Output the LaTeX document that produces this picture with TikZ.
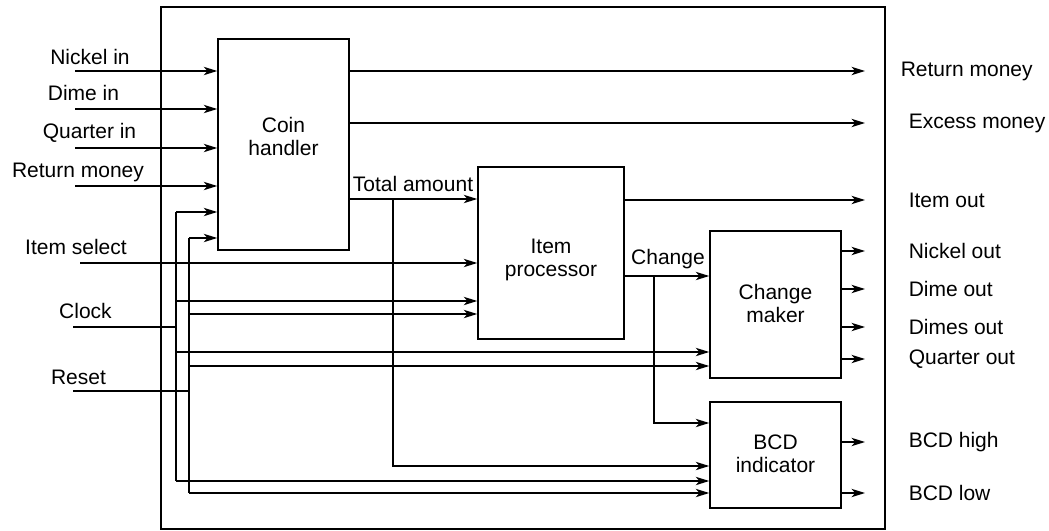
\documentclass[tikz,border=0pt]{standalone}
\usepackage{fontspec}
\setmainfont{Liberation Sans}
\usetikzlibrary{arrows.meta}
\begin{document}
\begin{tikzpicture}[x=0.5pt,y=-0.5pt,line width=0.75pt,
  sig/.style={-{Stealth[length=6.8pt,width=4.2pt,inset=2pt]}},
  blk/.style 2 args={draw,rectangle,inner sep=0pt,minimum width=#1*0.5pt,minimum height=#2*0.5pt},
  txt/.style={inner sep=0pt,font=\fontsize{10.5}{11.5}\selectfont}]
\useasboundingbox (0,0) rectangle (1049,530);
% frame and the four blocks
\node[blk={724}{522}] (frame) at (523,268) {};
\node[blk={131}{211}] (coin) at (283.5,144.5) {};
\node[blk={146}{172}] (proc) at (551,253) {};
\node[blk={131}{147}] (chgm) at (775.5,304.5) {};
\node[blk={131}{106}] (bcd) at (775.5,455) {};
\node[txt,align=center] (coint) at (283.5,136) {Coin\\handler};
\node[txt,align=center] (proct) at (551,260) {Item\\processor};
\node[txt,align=center] (chgmt) at (775.5,303) {Change\\maker};
\node[txt,align=center] (bcdt) at (775.5,454) {BCD\\indicator};
% coin inputs
\coordinate (nickel) at (75,71);\coordinate (dime) at (75,109);\coordinate (quarter) at (75,148);\coordinate (retin) at (75,186);
\foreach \c in {nickel,dime,quarter,retin} \draw[sig] (\c) -- (\c -| coin.west);
\node[txt] (nickelt) at (90,57) {Nickel in};
\node[txt] (dimet) at (83.5,93) {Dime in};
\node[txt] (quartert) at (89.5,133) {Quarter in};
\node[txt] (retint) at (78,172) {Return money};
% item select
\coordinate (isel) at (80,263);
\draw[sig] (isel) -- (isel -| proc.west);
\node[txt] (iselt) at (76,247) {Item select};
% clock bus
\coordinate (clk) at (73,327);\coordinate (clktop) at (176,212);\coordinate (clkbot) at (176,481);
\draw (clk) -- (clk -| clktop) (clktop) -- (clkbot);
\foreach \y/\b in {212/coin,301/proc,352/chgm,481/bcd} \draw[sig] (176,\y) -- (\b.west |- 0,\y);
\node[txt] (clkt) at (85.5,311) {Clock};
% reset bus
\coordinate (rst) at (73,391);\coordinate (rsttop) at (189,238);\coordinate (rstbot) at (189,493);
\draw (rst) -- (rst -| rsttop) (rsttop) -- (rstbot);
\foreach \y/\b in {238/coin,314/proc,366/chgm,493/bcd} \draw[sig] (189,\y) -- (\b.west |- 0,\y);
\node[txt] (rstt) at (78.5,377) {Reset};
% total amount
\coordinate (tot) at (393,199);\coordinate (totdn) at (393,466);
\draw[sig] (tot -| coin.east) -- (tot -| proc.west);
\draw[sig] (tot) -- (totdn) -- (totdn -| bcd.west);
\node[txt] (tott) at (413,184) {Total amount};
% change
\coordinate (chg) at (654,276);\coordinate (chgdn) at (654,423);
\draw[sig] (chg -| proc.east) -- (chg -| chgm.west);
\draw[sig] (chg) -- (chgdn) -- (chgdn -| bcd.west);
\node[txt] (chgt) at (668,259) {Change};
% outputs
\coordinate (retout) at (865,71);\coordinate (excess) at (865,123);\coordinate (itemout) at (865,200);
\draw[sig] (retout -| coin.east) -- (retout);
\draw[sig] (excess -| coin.east) -- (excess);
\draw[sig] (itemout -| proc.east) -- (itemout);
\node[txt,anchor=west] (retoutt) at (900,71) {Return money};
\node[txt,anchor=west] (excesst) at (908,123) {Excess money};
\node[txt,anchor=west] (itemoutt) at (908,200) {Item out};
\foreach \y/\t [count=\i] in {251/Nickel out,289/Dime out,327/Dimes out,359/Quarter out}{
  \draw[sig] (chgm.east |- 0,\y) -- (865,\y);
  \node[txt,anchor=west] (cout\i) at (908,\y) {\t};}
\foreach \y/\t [count=\i] in {442/BCD high,493/BCD low}{
  \draw[sig] (bcd.east |- 0,\y) -- (865,\y);
  \node[txt,anchor=west] (bout\i) at (908,\y) {\t};}
\end{tikzpicture}
\end{document}
